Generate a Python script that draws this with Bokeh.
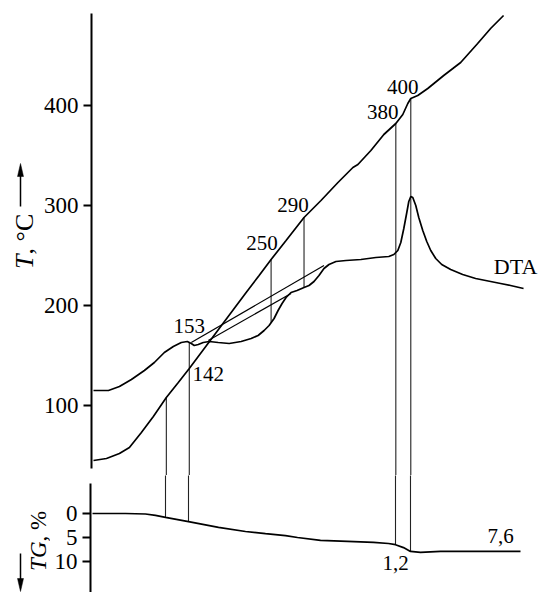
import numpy as np
from bokeh.plotting import figure
from bokeh.layouts import column, row
from bokeh.models import Range1d, FixedTicker
from bokeh.embed import file_html
from bokeh.resources import INLINE
from bokeh.core.properties import value

FONT = "Liberation Serif"

# ---- data (time in arbitrary units, T in degC) ----
t_T = [0.4, 3, 5.6, 7.6, 10, 12.4, 15, 17.4, 19.6, 22, 25, 28, 31, 33.6, 36, 39,
       42.6, 46, 49.4, 52.4, 53.4, 56, 58.6, 61, 62.4, 63.4, 64, 65.4, 67.4, 70.6,
       74, 77.4, 80, 82.6]
T_vals = [45, 47, 52, 58, 73, 89, 108, 123, 137, 153, 173, 193, 213, 230, 246, 265,
          288, 305, 323, 338, 341, 355, 371, 382, 391, 402, 407, 410, 417, 430,
          443, 462, 477, 490]

t_dta = [0.4, 3.4, 5.6, 8, 10.6, 12.6, 14.6, 16.4, 18, 19.2, 20, 20.6, 21.4, 22.4,
         23.6, 25.4, 27.6, 30, 32, 33.4, 34.6, 35.6, 36.6, 37.4, 38.2, 39, 40, 41.2,
         42.6, 43.6, 44.6, 45.6, 46.6, 47.6, 49, 51, 54, 57, 59.6, 60.6, 61.4, 62,
         62.6, 63.2, 63.6, 64, 64.4, 65, 65.6, 66.4, 67.2, 68, 69, 70.2, 72, 74.4,
         77, 80, 82, 84, 86.6]
dta_vals = [115, 115, 119, 126, 135, 143, 153, 159, 163, 164, 162, 160, 161, 163,
            164, 163, 162, 164, 167, 170, 175, 180, 187, 195, 202, 208, 213, 215,
            218, 220, 224, 230, 237, 241, 244, 245, 246, 248, 249, 251, 255, 263,
            277, 293, 304, 309, 308, 300, 288, 275, 264, 255, 247, 241, 236, 231,
            227, 224, 222, 220, 217]

base_a_t = [20, 46.6]
base_a_v = [163, 240]
base_b_t = [23.4, 40]
base_b_v = [165, 212]

t_tg = [0.4, 7, 11, 13, 15, 19.6, 25.6, 31, 35, 39, 41.4, 46, 51.4, 56.6, 59.6, 61,
        62.6, 64, 66, 70, 86]
tg_vals = [0, 0, 0.1, 0.4, 0.8, 1.7, 2.9, 3.75, 4.2, 4.6, 5.0, 5.6, 5.8, 6.0, 6.25,
           6.5, 7.1, 7.9, 8.1, 7.9, 7.9]

drop_t = [15, 19.6, 36, 42.6, 61, 64]
drop_from = ["T", "DTA", "T", "T", "T", "T"]
drop_to = ["TG", "TG", "DTA", "DTA", "TG", "TG"]

temp_ticks = [100, 200, 300, 400]
tg_ticks = [0, 5, 10]

ann_text = ["153", "142", "250", "290", "380", "400", "DTA"]
ann_t = [19.6, 23.4, 34.2, 40.4, 58.4, 62.4, 85]
ann_v = [180, 132, 263, 301, 394, 419, 239]
ann_size = ["21px"] * 6 + ["22px"]

tg_text = ["1,2", "7,6"]
tg_t = [61, 82]
tg_v = [10.4, 4.6]

# ---- figures ----
xr = Range1d(0, 90.2)
H1, H2 = 475, 117
L1, L2 = 40, 50


def style(p, bounds, ticks):
    p.xaxis.visible = False
    p.xgrid.visible = False
    p.ygrid.visible = False
    p.outline_line_color = None
    ax = p.yaxis[0]
    ax.ticker = FixedTicker(ticks=ticks, minor_ticks=[])
    ax.bounds = bounds
    ax.axis_line_width = 2
    ax.axis_line_color = "black"
    ax.major_tick_line_width = 2
    ax.major_tick_out = 8
    ax.major_tick_in = 0
    ax.minor_tick_line_color = None
    ax.major_label_standoff = 5
    ax.major_label_text_font = FONT
    ax.major_label_text_font_size = "23px"
    ax.major_label_text_color = "black"


def blank(w, h):
    q = figure(width=w, height=h, x_range=Range1d(0, w), y_range=Range1d(0, h),
               output_backend="svg", toolbar_location=None, title=None,
               min_border=0)
    q.axis.visible = False
    q.grid.visible = False
    q.outline_line_color = None
    return q


p1 = figure(width=541 - L1, height=H1, x_range=xr, y_range=Range1d(30, 505),
            output_backend="svg", toolbar_location=None, title=None,
            min_border=0, min_border_left=90 - L1)
style(p1, (37, 492), temp_ticks)

p2 = figure(width=541 - L2, height=H2, x_range=xr, y_range=Range1d(16.46, -7.92),
            output_backend="svg", toolbar_location=None, title=None,
            min_border=0, min_border_left=90 - L2)
style(p2, (-6.25, 16.46), tg_ticks)


def at(name, tt):
    if name == "T":
        return float(np.interp(tt, t_T, T_vals))
    if name == "DTA":
        return float(np.interp(tt, t_dta, dta_vals))
    return float(np.interp(tt, t_tg, tg_vals))


# drop lines run past the frame edge so they join across the two panels
span1 = p1.y_range.end - p1.y_range.start
span2 = p2.y_range.start - p2.y_range.end
below1 = p1.y_range.start - 0.05 * span1
above2 = p2.y_range.end - 0.05 * span2

x0, y0, y1 = [], [], []
for tt, a, b in zip(drop_t, drop_from, drop_to):
    x0.append(tt)
    y0.append(at(a, tt))
    y1.append(at(b, tt) if b == "DTA" else below1)
p1.segment(x0=x0, y0=y0, x1=x0, y1=y1, line_color="#222222", line_width=1.1)

lx, ly0, ly1 = [], [], []
for tt, b in zip(drop_t, drop_to):
    if b == "TG":
        lx.append(tt)
        ly0.append(above2)
        ly1.append(at("TG", tt))
p2.segment(x0=lx, y0=ly0, x1=lx, y1=ly1, line_color="#222222", line_width=1.1)

p1.line(t_T, T_vals, line_color="black", line_width=1.7)
p1.line(t_dta, dta_vals, line_color="black", line_width=1.7)
p1.line(base_a_t, base_a_v, line_color="black", line_width=1.2)
p1.line(base_b_t, base_b_v, line_color="black", line_width=1.2)
p2.line(t_tg, tg_vals, line_color="black", line_width=1.7)

p1.text(x=ann_t, y=ann_v, text=ann_text, text_font=value(FONT),
        text_font_size=ann_size, text_align="center", text_baseline="middle",
        text_color="black")
p2.text(x=tg_t, y=tg_v, text=tg_text, text_font=value(FONT),
        text_font_size="21px", text_align="center", text_baseline="middle",
        text_color="black")

# ---- axis titles in narrow side panels (pixel coordinates, y up) ----
ang = np.pi / 2
q1 = blank(L1, H1)
q1.text(x=[24], y=[H1 - 254], text=["T"], angle=ang, text_font=value(FONT),
        text_font_style="italic", text_font_size="26px", text_align="right",
        text_baseline="alphabetic", text_color="black")
q1.text(x=[24], y=[H1 - 254], text=[", °C"], angle=ang, text_font=value(FONT),
        text_font_size="26px", text_align="left", text_baseline="alphabetic",
        text_color="black")
q1.segment(x0=[20], y0=[H1 - 206], x1=[20], y1=[H1 - 172], line_color="black",
           line_width=1.5)
q1.patch(x=[20, 17, 23], y=[H1 - 163, H1 - 176, H1 - 176], fill_color="black",
         line_color="black", line_width=0.5)

q2 = blank(L2, H2)
q2.text(x=[38], y=[592 - 541], text=["TG"], angle=ang, text_font=value(FONT),
        text_font_style="italic", text_font_size="23px", text_align="right",
        text_baseline="alphabetic", text_color="black")
q2.text(x=[38], y=[592 - 541], text=[", %"], angle=ang, text_font=value(FONT),
        text_font_size="23px", text_align="left", text_baseline="alphabetic",
        text_color="black")
q2.segment(x0=[20], y0=[592 - 553], x1=[20], y1=[592 - 580], line_color="black",
           line_width=1.5)
q2.patch(x=[20, 17, 23], y=[592 - 591, 592 - 578, 592 - 578], fill_color="black",
         line_color="black", line_width=0.5)

layout = column(row(q1, p1, spacing=0), row(q2, p2, spacing=0), spacing=0)
open("out.html", "w").write(file_html(layout, INLINE))
